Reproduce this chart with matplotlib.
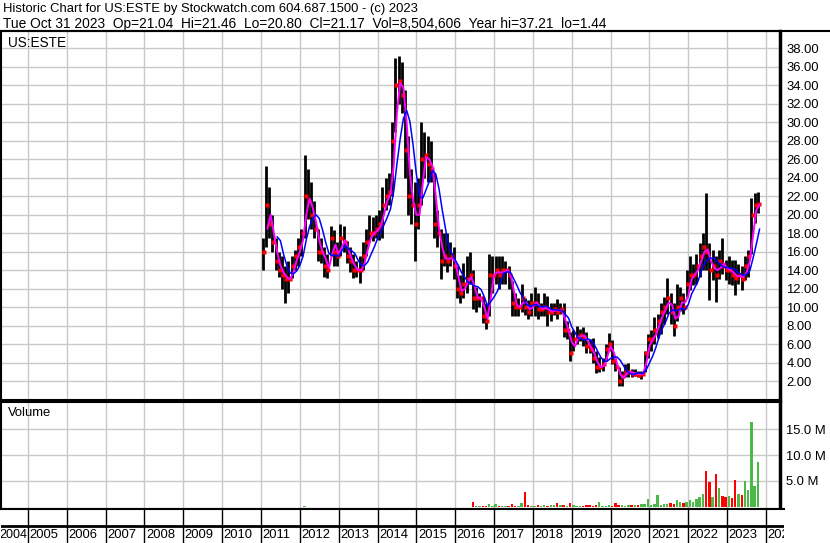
import numpy as np
import pandas as pd
import matplotlib
matplotlib.use("Agg")
import matplotlib.pyplot as plt

plt.rcParams['font.family'] = ['Liberation Sans', 'DejaVu Sans']

# monthly high / low / close, Jan 2011 .. Oct 2023
high = [17.5, 25.3, 23.0, 20.0, 17.5, 16.0, 15.5, 14.5, 15.0, 15.5, 16.2, 17.5,
        18.5, 26.5, 25.0, 23.5, 21.5, 18.5, 17.5, 16.5, 15.8, 18.8, 18.3, 17.0,
        19.0, 18.8, 17.2, 16.5, 15.8, 15.0, 15.5, 17.0, 18.5, 20.0, 19.8, 20.0,
        20.5, 23.0, 24.0, 24.5, 30.0, 37.0, 37.2, 36.5, 33.5, 28.5, 25.0, 23.5,
        24.0, 30.0, 29.0, 28.5, 28.0, 24.5, 20.5, 18.5, 18.0, 18.0, 17.0, 16.5,
        14.5, 13.5, 14.8, 15.5, 16.0, 14.0, 12.2, 11.5, 11.2, 10.5, 15.8, 15.5,
        15.5, 15.5, 15.5, 15.0, 14.5, 12.8, 11.5, 11.0, 12.5, 11.0, 10.8, 11.5,
        12.2, 11.5, 10.5, 11.5, 11.2, 10.5, 10.5, 10.9, 10.5, 10.5, 8.5, 7.3,
        7.5, 8.0, 7.6, 7.8, 7.3, 6.6, 6.7, 5.3, 4.6, 4.5, 6.0, 7.2,
        6.4, 4.5, 3.5, 3.1, 3.8, 4.0, 3.3, 3.3, 3.1, 3.1, 5.3, 7.1,
        7.5, 8.9, 9.3, 10.4, 11.1, 13.1, 11.5, 10.4, 12.5, 12.2, 11.5, 14.0,
        15.5, 14.7, 15.8, 16.9, 18.0, 22.3, 16.9, 16.2, 15.5, 16.2, 17.5, 15.1,
        15.5, 15.1, 15.1, 14.7, 14.4, 15.5, 16.2, 21.8, 22.4, 22.5]
low = [14.0, 16.5, 17.5, 16.0, 14.0, 13.3, 12.0, 10.5, 11.5, 13.2, 14.0, 14.5,
       15.5, 17.5, 19.5, 18.5, 17.5, 15.0, 14.8, 13.3, 13.2, 15.5, 14.5, 14.5,
       15.5, 16.0, 14.8, 13.8, 13.2, 13.3, 12.6, 14.0, 15.5, 17.0, 17.2, 17.5,
       17.3, 17.5, 20.5, 21.0, 22.0, 29.0, 32.0, 31.0, 24.0, 20.0, 19.0, 15.0,
       18.5, 21.0, 24.0, 23.5, 23.5, 17.5, 16.5, 13.0, 14.5, 13.8, 14.5, 13.0,
       11.0, 10.5, 11.0, 11.5, 12.5, 9.8, 9.5, 10.0, 8.3, 7.6, 9.0, 11.5,
       12.5, 12.0, 12.5, 12.5, 12.0, 9.0, 9.0, 9.0, 9.5, 9.2, 8.7, 9.0,
       9.0, 8.7, 9.0, 9.0, 8.0, 8.5, 9.2, 8.7, 9.3, 6.8, 6.5, 4.2,
       5.3, 6.0, 6.3, 5.8, 5.0, 5.0, 4.0, 2.9, 3.0, 3.1, 4.2, 5.3,
       3.8, 3.1, 1.5, 1.44, 2.4, 2.4, 2.4, 2.5, 2.4, 2.2, 3.0, 4.5,
       5.3, 6.0, 6.7, 7.1, 8.2, 9.3, 8.2, 6.9, 8.5, 9.6, 9.3, 11.1,
       11.8, 12.4, 12.5, 13.3, 14.0, 14.0, 10.8, 12.9, 10.6, 13.0, 13.6, 12.9,
       12.5, 12.4, 11.3, 12.5, 11.8, 12.9, 13.3, 15.8, 19.1, 20.2]
close = [16.0, 21.0, 19.0, 17.0, 15.0, 14.0, 13.5, 13.0, 13.0, 14.5, 15.5, 16.5,
         18.0, 22.0, 21.5, 20.0, 18.5, 16.0, 16.0, 14.5, 14.0, 17.5, 16.0, 15.5,
         17.5, 17.0, 15.5, 15.0, 14.0, 14.0, 14.0, 15.5, 17.0, 18.0, 18.0, 18.5,
         19.0, 21.0, 22.0, 22.5, 28.0, 34.0, 34.5, 33.0, 27.0, 22.0, 21.0, 19.0,
         21.0, 26.0, 26.5, 25.5, 25.0, 19.0, 18.0, 15.0, 15.5, 15.0, 15.5, 14.5,
         12.0, 11.5, 12.5, 13.0, 13.5, 11.0, 11.0, 11.0, 9.0, 8.5, 13.5, 13.5,
         14.0, 13.5, 14.0, 14.0, 13.5, 10.5, 10.0, 10.0, 11.0, 10.0, 9.5, 10.5,
         10.5, 9.8, 9.8, 10.0, 9.5, 9.5, 9.8, 9.5, 9.8, 7.5, 7.5, 5.0,
         6.5, 6.8, 7.0, 6.8, 5.8, 5.5, 4.5, 3.5, 3.5, 3.8, 5.5, 6.0,
         4.2, 3.5, 2.0, 2.6, 3.0, 3.0, 2.8, 2.8, 2.7, 2.8, 5.0, 6.5,
         6.5, 7.5, 8.5, 9.5, 10.0, 11.0, 9.5, 8.0, 10.0, 11.0, 10.0, 12.5,
         13.5, 13.5, 14.5, 15.5, 16.5, 16.0, 14.0, 14.5, 13.5, 15.0, 14.5, 14.0,
         14.0, 13.5, 13.2, 13.5, 13.0, 14.5, 15.5, 20.0, 21.0, 21.17]

# volume in millions, Jan 2016 .. Oct 2023 (earlier months ~0)
volume_2016_on = [0, 0, 0, 0, 0, 0.85, 0.05, 0.1, 0.2, 0.15, 0.5, 0.2,
                  0.6, 0.1, 0.1, 0.15, 0.2, 0.5, 0.15, 0.2, 0.8, 2.8, 0.3, 0.2,
                  0.2, 0.25, 0.15, 0.3, 0.2, 0.3, 0.3, 0.7, 0.25, 0.3, 0.2, 0.7,
                  0.25, 0.2, 0.15, 0.2, 0.3, 0.4, 0.2, 0.3, 1.0, 0.2, 0.2, 0.25,
                  0.2, 0.8, 0.35, 0.3, 0.2, 0.4, 0.25, 0.3, 0.3, 0.5, 0.5, 1.4,
                  0.4, 0.5, 2.2, 0.4, 0.6, 0.5, 0.7, 0.6, 1.3, 0.9, 0.8, 1.0,
                  1.2, 1.0, 1.4, 1.9, 2.4, 7.0, 4.7, 1.9, 6.4, 3.7, 2.0, 1.8,
                  2.0, 1.6, 5.1, 2.4, 2.2, 4.9, 3.3, 16.5, 4.1, 8.6]
years = list(range(2004, 2025))
price_ticks = list(range(2, 40, 2))
volume_ticks = [5, 10, 15]

W, H = 830, 543


def rect(l, t, r, b):
    return [l / W, 1 - b / H, (r - l) / W, (b - t) / H]


n = len(close)
t = 2011 + (np.arange(n) + 0.5) / 12.0
df = pd.DataFrame({"t": t, "high": high, "low": low, "close": close})
vol = np.zeros(n)
vol[60:] = volume_2016_on
vol[13] = 0.1
df["vol"] = vol
t_end = t + 0.5 / 12.0
ma_short = df["close"].rolling(2).mean()
ma_long = df["close"].rolling(5).mean()

xlim = (2004.309, 2024.36)
grid_c = "#c8c8c8"

fig = plt.figure(figsize=(W / 100, H / 100), dpi=100)

# price panel
ax = fig.add_axes(rect(1, 31, 780, 400))
ax.set_xlim(*xlim)
ax.set_ylim(-0.05, 39.88)
for y in price_ticks:
    ax.axhline(y, color=grid_c, lw=1, zorder=0)
for yr in years[1:]:
    ax.axvline(yr, color=grid_c, lw=1, zorder=0)
ax.vlines(df["t"], df["low"], df["high"], color="black", lw=2.0, zorder=2)
ax.plot(df["t"] + 0.03, df["close"], ls="none", marker="s", ms=2.2,
        color="red", mec="none", zorder=3)
ax.plot(t_end, ma_short, color="#ff00ff", lw=1.4, zorder=4)
ax.plot(t_end, ma_long, color="#0000ff", lw=1.1, zorder=5)
ax.set_xticks([])
ax.yaxis.tick_right()
ax.set_yticks(price_ticks)
ax.set_yticklabels(["%.2f" % v for v in price_ticks])
ax.tick_params(axis="y", length=0, pad=4.5, labelsize=9.4)
ax.text(7 / 779, 1 - 12 / 369, "US:ESTE", transform=ax.transAxes,
        fontsize=9.8, va="center", ha="left")
for s in ax.spines.values():
    s.set_linewidth(1.5)
ax.spines["right"].set_linewidth(2.5)

# volume panel
axv = fig.add_axes(rect(1, 402, 780, 509))
axv.set_xlim(*xlim)
axv.set_ylim(-0.45, 20.3)
for y in volume_ticks:
    axv.axhline(y, color=grid_c, lw=1, zorder=0)
for yr in years[1:]:
    axv.axvline(yr, color=grid_c, lw=1, zorder=0)
up = df["close"].diff().fillna(0) >= 0
colors = np.where(up, "#4cb848", "#ff0000")
axv.bar(df["t"], df["vol"], width=0.75 / 12, color=colors, lw=0, zorder=2)
axv.set_xticks([])
axv.yaxis.tick_right()
axv.set_yticks(volume_ticks)
axv.set_yticklabels(["%.1f M" % v for v in volume_ticks])
axv.tick_params(axis="y", length=0, pad=4.5, labelsize=9.4)
axv.text(7 / 779, 1 - 11 / 107, "Volume", transform=axv.transAxes,
         fontsize=9.4, va="center", ha="left")
for s in axv.spines.values():
    s.set_linewidth(1.5)
axv.spines["right"].set_linewidth(2.5)

# year strip
axy = fig.add_axes(rect(1, 509, 784, 543))
axy.set_xlim(xlim[0], xlim[0] + (xlim[1] - xlim[0]) * 783 / 779)
axy.set_ylim(0, 34)
axy.axhline(17, color="black", lw=2)
for yr in years:
    axy.axvline(yr, color="black", lw=1)
    if yr == years[0]:
        axy.text(yr + 1 - 0.02, 8.5, str(yr), fontsize=9.0, va="center",
                 ha="right", clip_on=True)
    else:
        axy.text(yr + 0.04, 8.5, str(yr), fontsize=9.4, va="center",
                 ha="left", clip_on=True)
axy.set_xticks([])
axy.set_yticks([])
for s in axy.spines.values():
    s.set_visible(False)
axy.spines["top"].set_visible(True)
axy.spines["top"].set_linewidth(1.5)

# header
fig.add_artist(plt.Line2D([0, 1], [1 - 30.5 / H, 1 - 30.5 / H], color="black",
                          lw=1.5, transform=fig.transFigure))
fig.text(3 / W, 1 - 9 / H,
         "Historic Chart for US:ESTE by Stockwatch.com 604.687.1500 - (c) 2023",
         fontsize=9.4, va="center", ha="left")
fig.text(3 / W, 1 - 24 / H,
         "Tue Oct 31 2023  Op=21.04  Hi=21.46  Lo=20.80  Cl=21.17  "
         "Vol=8,504,606  Year hi=37.21  lo=1.44",
         fontsize=9.9, va="center", ha="left")

fig.savefig("out.png", dpi=100)
